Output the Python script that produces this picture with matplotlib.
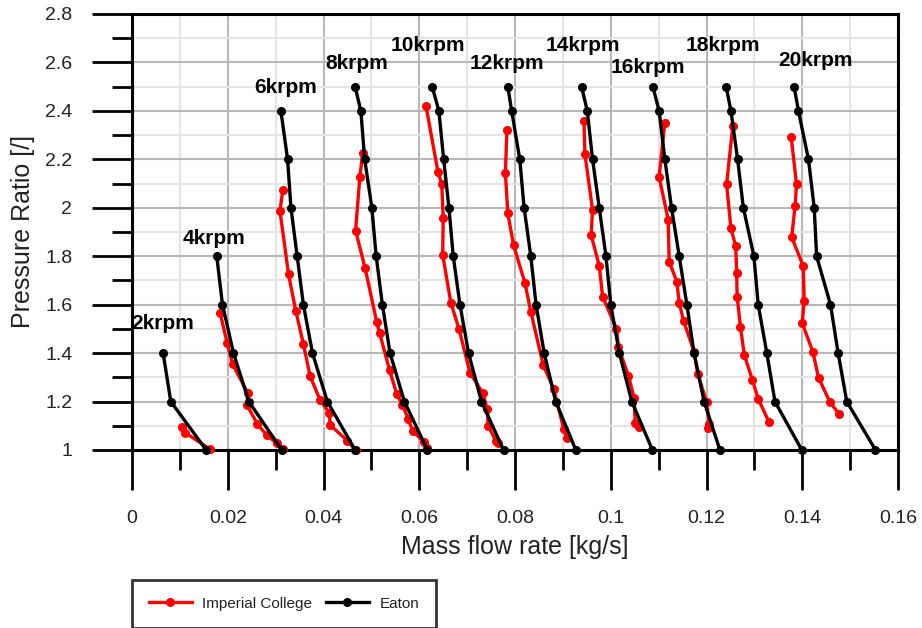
import matplotlib
matplotlib.use("Agg")
import matplotlib.pyplot as plt
from matplotlib.ticker import MultipleLocator, FuncFormatter

plt.rcParams['font.family'] = ['Liberation Sans', 'DejaVu Sans']

# ---------------- data ----------------
speed_labels = ["2krpm", "4krpm", "6krpm", "8krpm", "10krpm",
                "12krpm", "14krpm", "16krpm", "18krpm", "20krpm"]

# Eaton (black)
eaton_2k_x = [0.0065, 0.0081, 0.0155]
eaton_2k_y = [1.4, 1.2, 1.0]
eaton_4k_x = [0.0177, 0.0189, 0.0212, 0.0244, 0.0313]
eaton_4k_y = [1.8, 1.6, 1.4, 1.2, 1.0]
eaton_6k_x = [0.0311, 0.0325, 0.0332, 0.0345, 0.0358, 0.0377, 0.0408, 0.0466]
eaton_6k_y = [2.4, 2.2, 2.0, 1.8, 1.6, 1.4, 1.2, 1.0]
eaton_8k_x = [0.0466, 0.0478, 0.0486, 0.0501, 0.0510, 0.0523, 0.0539, 0.0569, 0.0617]
eaton_10k_x = [0.0627, 0.0641, 0.0651, 0.0662, 0.0671, 0.0685, 0.0703, 0.0730, 0.0776]
eaton_12k_x = [0.0785, 0.0793, 0.0810, 0.0819, 0.0833, 0.0844, 0.0861, 0.0885, 0.0927]
eaton_14k_x = [0.0939, 0.0951, 0.0962, 0.0976, 0.0990, 0.1000, 0.1018, 0.1044, 0.1087]
eaton_16k_x = [0.1088, 0.1101, 0.1113, 0.1127, 0.1143, 0.1159, 0.1174, 0.1195, 0.1228]
eaton_18k_x = [0.1241, 0.1251, 0.1265, 0.1277, 0.1299, 0.1308, 0.1326, 0.1343, 0.1399]
eaton_20k_x = [0.1383, 0.1392, 0.1413, 0.1425, 0.1430, 0.1459, 0.1475, 0.1493, 0.1553]
eaton_hi_y = [2.5, 2.4, 2.2, 2.0, 1.8, 1.6, 1.4, 1.2, 1.0]

# Imperial College (red)
imp_2k_x = [0.0104, 0.0111, 0.0163]
imp_2k_y = [1.096, 1.072, 1.003]
imp_4k_x = [0.0184, 0.0199, 0.0210, 0.0242, 0.0240, 0.0262, 0.0281, 0.0302, 0.0316]
imp_4k_y = [1.567, 1.44, 1.355, 1.234, 1.186, 1.107, 1.062, 1.028, 1.003]
imp_6k_x = [0.0315, 0.0309, 0.0327, 0.0342, 0.0358, 0.0372, 0.0393, 0.0412, 0.0414, 0.0450, 0.0467]
imp_6k_y = [2.073, 1.988, 1.725, 1.575, 1.438, 1.305, 1.206, 1.154, 1.103, 1.038, 1.0]
imp_8k_x = [0.0482, 0.0476, 0.0467, 0.0487, 0.0511, 0.0517, 0.0538, 0.0553, 0.0565, 0.0577, 0.0586, 0.0609, 0.0617]
imp_8k_y = [2.228, 2.128, 1.906, 1.75, 1.53, 1.484, 1.33, 1.231, 1.186, 1.127, 1.08, 1.034, 1.007]
imp_10k_x = [0.0614, 0.0639, 0.0647, 0.0650, 0.0649, 0.0666, 0.0683, 0.0706, 0.0733, 0.0742, 0.0744, 0.0760, 0.0764]
imp_10k_y = [2.421, 2.149, 2.097, 1.959, 1.805, 1.608, 1.5, 1.319, 1.234, 1.168, 1.099, 1.038, 1.028]
imp_12k_x = [0.0783, 0.0780, 0.0785, 0.0797, 0.0821, 0.0833, 0.0859, 0.0881, 0.0902, 0.0908]
imp_12k_y = [2.321, 2.142, 1.977, 1.846, 1.688, 1.571, 1.351, 1.251, 1.085, 1.048]
imp_14k_x = [0.0944, 0.0946, 0.0962, 0.0959, 0.0976, 0.0983, 0.1012, 0.1016, 0.1037, 0.1049, 0.1051, 0.1060]
imp_14k_y = [2.358, 2.222, 1.991, 1.888, 1.76, 1.633, 1.5, 1.424, 1.307, 1.213, 1.113, 1.094]
imp_16k_x = [0.1113, 0.1101, 0.1120, 0.1122, 0.1138, 0.1143, 0.1152, 0.1174, 0.1182, 0.1200, 0.1206, 0.1204]
imp_16k_y = [2.351, 2.128, 1.95, 1.778, 1.695, 1.608, 1.534, 1.406, 1.312, 1.2, 1.106, 1.09]
imp_18k_x = [0.1255, 0.1242, 0.1251, 0.1261, 0.1263, 0.1264, 0.1271, 0.1279, 0.1296, 0.1308, 0.1331]
imp_18k_y = [2.339, 2.097, 1.915, 1.842, 1.732, 1.633, 1.507, 1.392, 1.289, 1.211, 1.114]
imp_20k_x = [0.1377, 0.1388, 0.1385, 0.1378, 0.1402, 0.1404, 0.1400, 0.1422, 0.1434, 0.1458, 0.1477]
imp_20k_y = [2.291, 2.097, 2.009, 1.878, 1.76, 1.617, 1.523, 1.406, 1.299, 1.197, 1.149]

eaton_curves = [
    (eaton_2k_x, eaton_2k_y), (eaton_4k_x, eaton_4k_y), (eaton_6k_x, eaton_6k_y),
    (eaton_8k_x, eaton_hi_y), (eaton_10k_x, eaton_hi_y), (eaton_12k_x, eaton_hi_y),
    (eaton_14k_x, eaton_hi_y), (eaton_16k_x, eaton_hi_y), (eaton_18k_x, eaton_hi_y),
    (eaton_20k_x, eaton_hi_y),
]
imp_curves = [
    (imp_2k_x, imp_2k_y), (imp_4k_x, imp_4k_y), (imp_6k_x, imp_6k_y),
    (imp_8k_x, imp_8k_y), (imp_10k_x, imp_10k_y), (imp_12k_x, imp_12k_y),
    (imp_14k_x, imp_14k_y), (imp_16k_x, imp_16k_y), (imp_18k_x, imp_18k_y),
    (imp_20k_x, imp_20k_y),
]

# label placement (layout, data coordinates)
label_pos = [(0.0065, 1.524), (0.0171, 1.875), (0.0320, 2.495), (0.0470, 2.594),
             (0.0618, 2.668), (0.0783, 2.594), (0.0942, 2.672), (0.1078, 2.581),
             (0.1234, 2.668), (0.1427, 2.61)]

# ---------------- figure ----------------
W, H = 922, 628
fig = plt.figure(figsize=(W / 100, H / 100), dpi=100)
ax = fig.add_axes([132 / W, 1 - 450 / H, (898 - 132) / W, (450 - 14) / H])

ax.set_xlim(0, 0.16)
ax.set_ylim(1, 2.8)

ax.xaxis.set_major_locator(MultipleLocator(0.02))
ax.xaxis.set_minor_locator(MultipleLocator(0.01))
ax.yaxis.set_major_locator(MultipleLocator(0.2))
ax.yaxis.set_minor_locator(MultipleLocator(0.1))

def fmt(v, pos):
    s = f"{v:.2f}".rstrip("0").rstrip(".")
    return s
ax.xaxis.set_major_formatter(FuncFormatter(fmt))
ax.yaxis.set_major_formatter(FuncFormatter(fmt))

ax.grid(which="major", color="#b8b8b8", linewidth=1.5, zorder=0)
ax.grid(which="minor", color="#e4e4e4", linewidth=1.5, zorder=0)
ax.set_axisbelow(True)

for sp in ax.spines.values():
    sp.set_linewidth(2.2)
    sp.set_color("black")

ax.tick_params(which="major", direction="out", length=29, width=2.0,
               labelsize=14, colors="black", labelcolor="#222222")
ax.tick_params(which="minor", direction="out", length=14.5, width=2.0, colors="black")
ax.tick_params(axis="x", which="major", pad=14)
ax.tick_params(axis="y", which="major", pad=14)

lw = 2.4
ms = 5.5
for (x, y) in imp_curves:
    ax.plot(x, y, color="#ff0000", lw=lw, marker="o", ms=ms, zorder=3, clip_on=False)
for (x, y) in eaton_curves:
    ax.plot(x, y, color="black", lw=lw, marker="o", ms=ms, zorder=4, clip_on=False)

for lab, (lx, ly) in zip(speed_labels, label_pos):
    ax.text(lx, ly, lab, ha="center", va="center", fontsize=15,
            fontweight="bold", color="black", zorder=5)

ax.set_xlabel("Mass flow rate [kg/s]", fontsize=18, color="#222222", labelpad=6)
ax.set_ylabel("Pressure Ratio [/]", fontsize=18, color="#222222", labelpad=7)

# legend
h_imp, = ax.plot([], [], color="#ff0000", lw=lw, marker="o", ms=ms)
h_eat, = ax.plot([], [], color="black", lw=lw, marker="o", ms=ms)
leg = fig.legend([h_imp, h_eat], ["Imperial College", "Eaton"],
                 loc="upper left", bbox_to_anchor=(132 / W, 1 - 580 / H),
                 ncol=2, fontsize=11, frameon=True, fancybox=False,
                 edgecolor="black", handlelength=2.8, handletextpad=0.7,
                 columnspacing=0.9, borderpad=1.1, borderaxespad=0)
leg.get_frame().set_linewidth(2.0)
for t in leg.get_texts():
    t.set_color("#222222")

fig.savefig("out.png", dpi=100)
